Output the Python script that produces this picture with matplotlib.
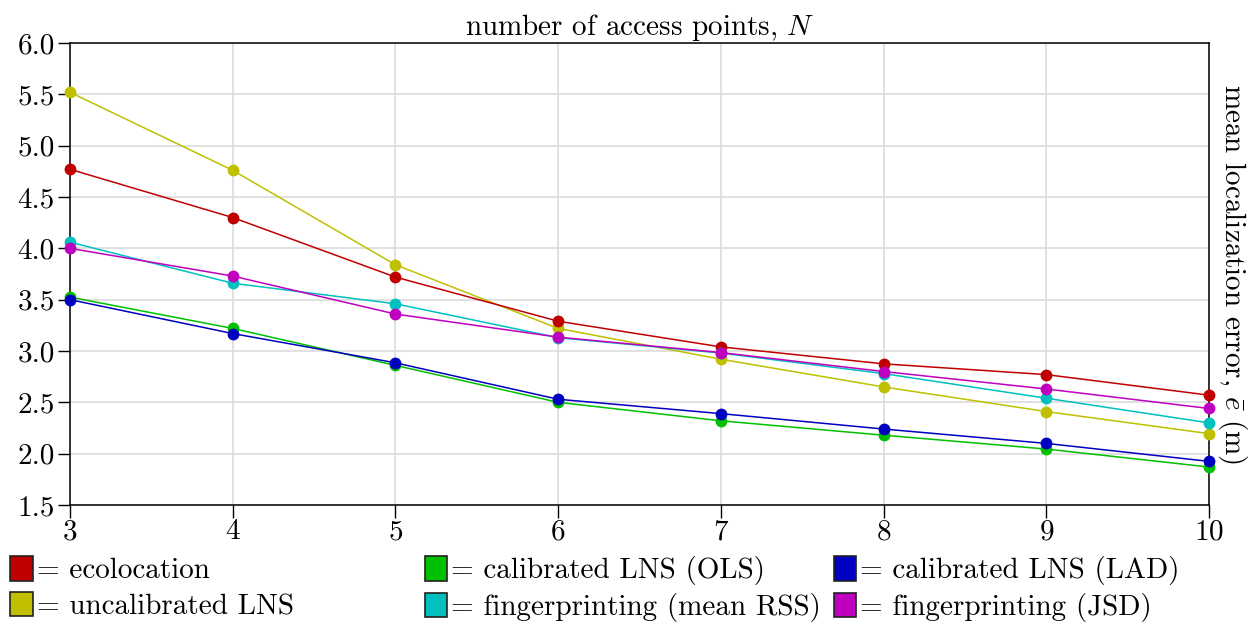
import matplotlib
matplotlib.use("Agg")
import matplotlib.pyplot as plt
from matplotlib.patches import Patch

# --- data --- #
n_ap = [3, 4, 5, 6, 7, 8, 9, 10]

ecolocation = [4.77, 4.30, 3.72, 3.29, 3.04, 2.875, 2.77, 2.57]
uncalibrated = [5.52, 4.76, 3.84, 3.22, 2.92, 2.65, 2.41, 2.195]
ols = [3.525, 3.22, 2.86, 2.50, 2.32, 2.18, 2.045, 1.87]
lad = [3.50, 3.17, 2.885, 2.53, 2.39, 2.24, 2.10, 1.925]
mean_rss = [4.06, 3.66, 3.46, 3.13, 2.98, 2.78, 2.54, 2.30]
jsd = [4.00, 3.73, 3.36, 3.135, 2.985, 2.80, 2.63, 2.44]

yticks = [1.5, 2.0, 2.5, 3.0, 3.5, 4.0, 4.5, 5.0, 5.5, 6.0]

series = [
    ("ecolocation", ecolocation, "#c00000"),
    ("uncalibrated LNS", uncalibrated, "#c0c000"),
    ("calibrated LNS (OLS)", ols, "#00c000"),
    ("fingerprinting (mean RSS)", mean_rss, "#00c0c0"),
    ("calibrated LNS (LAD)", lad, "#0000c0"),
    ("fingerprinting (JSD)", jsd, "#c000c0"),
]

plt.rcParams['font.family'] = 'cmr10'
plt.rcParams['mathtext.fontset'] = 'cm'
plt.rcParams['axes.formatter.use_mathtext'] = True
fs = 21

fig = plt.figure(figsize=(12.49, 6.26), dpi=100)
ax = fig.add_axes([70/1249, 121/626, 1139/1249, 462/626])

# draw order: put lower lines on top like the reference
for name, vals, col in [series[1], series[0], series[3], series[5], series[2], series[4]]:
    ax.plot(n_ap, vals, color=col, lw=1.1, marker='o', ms=7.5, zorder=3,
            clip_on=False)

ax.set_xlim(3, 10)
ax.set_ylim(1.5, 6.0)
ax.set_xticks(n_ap)
ax.set_yticks(yticks)
ax.set_yticklabels(["%.1f" % v for v in yticks])
ax.grid(True, color='#dcdcdc', lw=1.2, zorder=0)
ax.set_axisbelow(True)
for sp in ax.spines.values():
    sp.set_linewidth(1.1)
ax.tick_params(axis='both', labelsize=fs, length=9, width=1.0, direction='out')
ax.tick_params(axis='x', pad=1)
ax.tick_params(axis='y', pad=2)

ax.set_title("number of access points, $N$", fontsize=fs, pad=6)
ax.yaxis.set_label_position('right')
ax.set_ylabel(r"mean localization error, $\bar{e}$ (m)", fontsize=fs,
              rotation=270, va='bottom', labelpad=5)

# legend: three columns placed separately
col_x = [0.006, 0.338, 0.665]
for i, x in enumerate(col_x):
    handles = []
    for name, vals, col in series[2*i:2*i+2]:
        handles.append(Patch(facecolor=col, edgecolor='#222222', lw=1.2,
                             label="= " + name))
    fig.legend(handles=handles, loc='upper left', bbox_to_anchor=(x, 0.116),
               frameon=False, fontsize=fs, handlelength=0.76, handleheight=0.9,
               handletextpad=0.14, labelspacing=0.26, borderaxespad=0,
               borderpad=0.1)

plt.savefig("out.png", dpi=100)
